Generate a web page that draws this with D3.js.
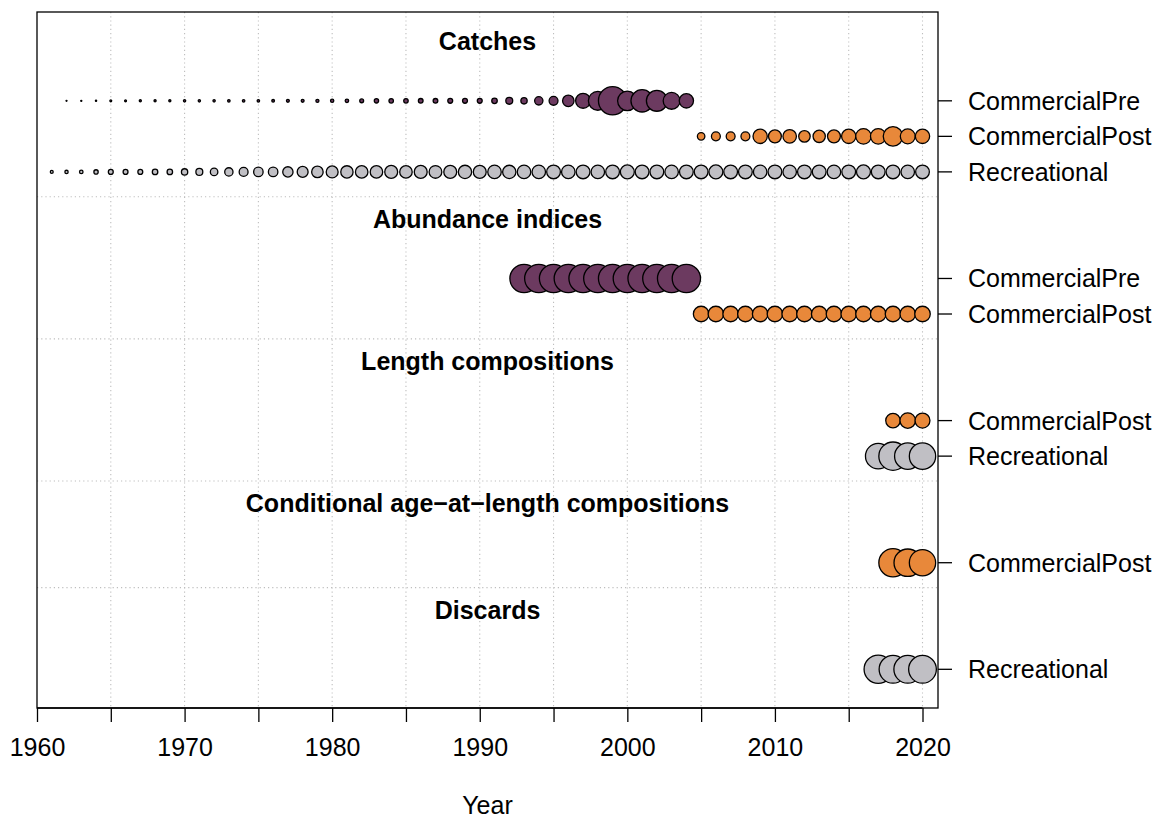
<!DOCTYPE html>
<html>
<head>
<meta charset="utf-8">
<script src="https://cdn.jsdelivr.net/npm/d3@7"></script>
<style>
  html, body { margin: 0; padding: 0; background: #ffffff; }
  svg { display: block; font-family: "Liberation Sans", Arial, sans-serif; }
</style>
</head>
<body>
<svg id="chart" width="1156" height="819"></svg>
<script>
// ---------------- DATA ----------------
const typeNames = ["Catches", "Abundance indices", "Length compositions",
                   "Conditional age\u2212at\u2212length compositions", "Discards"];
const fleetNames = ["CommercialPre", "CommercialPost", "Recreational"];
const fleetColors = ["#6C3A60", "#E8883A", "#C0BFC4"];

// Catches (relative amounts)
const catchPreYears = d3.range(1962, 2005);
const catchPre = [10, 12, 14, 22, 22, 26, 26, 26, 29, 29,
                  29, 32, 32, 32, 36, 40, 40, 44, 48, 53,
                  62, 73, 78, 78, 84, 84, 90, 90, 90, 109,
                  160, 137, 221, 250, 397, 640, 1000, 2161, 1061, 1369,
                  1210, 810, 593];
const catchPostYears = d3.range(2005, 2021);
const catchPost = [185, 250, 250, 250, 593, 490, 533, 397, 449, 490,
                   593, 689, 689, 1061, 640, 593];
const catchRecYears = d3.range(1961, 2021);
const catchRec = [40, 48, 53, 73, 90, 90, 90, 109, 109, 137,
                  160, 185, 221, 250, 281, 281, 325, 360, 397, 423,
                  449, 462, 462, 490, 462, 490, 476, 490, 518, 490,
                  533, 518, 533, 533, 548, 533, 548, 533, 548, 563,
                  548, 548, 533, 548, 548, 563, 548, 548, 533, 548,
                  533, 548, 548, 533, 548, 563, 548, 548, 533, 548];

// Abundance indices (relative precision)
const abundPreYears = d3.range(1993, 2005);
const abundPre = [1, 1, 1, 1, 1, 1, 1, 1, 1, 1, 1, 1];
const abundPostYears = d3.range(2005, 2021);
const abundPost = [0.32, 0.32, 0.32, 0.32, 0.32, 0.32, 0.32, 0.32,
                   0.32, 0.32, 0.32, 0.32, 0.32, 0.32, 0.32, 0.32];

// Length compositions (sample sizes)
const lenPostYears = [2018, 2019, 2020];
const lenPost = [61, 69, 64];
const lenRecYears = [2017, 2018, 2019, 2020];
const lenRec = [177, 216, 188, 188];

// Conditional age-at-length compositions
const caalPostYears = [2018, 2019, 2020];
const caalPost = [216, 204, 188];

// Discards
const discRecYears = [2017, 2018, 2019, 2020];
const discRec = [234, 225, 225, 225];

const xTickValues = [1960, 1965, 1970, 1975, 1980, 1985, 1990, 1995, 2000, 2005, 2010, 2015, 2020];
const xLabelValues = [1960, 1970, 1980, 1990, 2000, 2010, 2020];

// series table built from the arrays above
const series = [
  { type: 0, fleet: 0, years: catchPreYears, values: catchPre },
  { type: 0, fleet: 1, years: catchPostYears, values: catchPost },
  { type: 0, fleet: 2, years: catchRecYears, values: catchRec },
  { type: 1, fleet: 0, years: abundPreYears, values: abundPre },
  { type: 1, fleet: 1, years: abundPostYears, values: abundPost },
  { type: 2, fleet: 1, years: lenPostYears, values: lenPost },
  { type: 2, fleet: 2, years: lenRecYears, values: lenRec },
  { type: 3, fleet: 1, years: caalPostYears, values: caalPost },
  { type: 4, fleet: 2, years: discRecYears, values: discRec }
];

// ---------------- LAYOUT ----------------
const W = 1156, H = 819;
const plot = { left: 37, right: 938, top: 12, bottom: 708 };
const fontSize = 25;
const maxR = 14.7;

// vertical layout in "row units"
let pos = 0.2;
const groupInfo = [];
const rowInfo = [];
typeNames.forEach((name, t) => {
  const rows = series.filter(s => s.type === t);
  const titleY = pos + 0.62;
  const start = pos + 2.3;
  rows.forEach((s, i) => { s.row = start + i; rowInfo.push(s); });
  const last = start + rows.length - 1;
  groupInfo.push({ name, titleY, sep: last + 0.7, last: t === typeNames.length - 1 });
  pos = last + 0.7;
});
const unitPx = 35.53;
const yMax = (plot.bottom - plot.top) / unitPx;

const x = d3.scaleLinear().domain([1960, 2021.05]).range([plot.left, plot.right]);
const y = d3.scaleLinear().domain([0, yMax]).range([plot.top, plot.bottom]);

const svg = d3.select("#chart");
svg.append("rect").attr("width", W).attr("height", H).attr("fill", "#fff");

// grid lines
const grid = svg.append("g");
grid.selectAll("line.v").data(xTickValues.filter(v => v > 1960)).join("line")
  .attr("x1", d => x(d)).attr("x2", d => x(d))
  .attr("y1", plot.top).attr("y2", plot.bottom)
  .attr("stroke", "#BEBEBE").attr("stroke-width", 1.1).attr("stroke-dasharray", "1.2,3");
grid.selectAll("line.h").data(groupInfo.filter(g => !g.last)).join("line")
  .attr("x1", plot.left).attr("x2", plot.right)
  .attr("y1", d => y(d.sep)).attr("y2", d => y(d.sep))
  .attr("stroke", "#BEBEBE").attr("stroke-width", 1.1).attr("stroke-dasharray", "1.2,3");

// titles
svg.append("g").selectAll("text").data(groupInfo).join("text")
  .attr("x", (plot.left + plot.right) / 2)
  .attr("y", d => y(d.titleY))
  .attr("dy", "0.36em")
  .attr("text-anchor", "middle")
  .attr("font-size", fontSize).attr("font-weight", "bold")
  .text(d => d.name);

// circles
const typeMax = typeNames.map((_, t) =>
  d3.max(series.filter(s => s.type === t), s => d3.max(s.values)));
const pts = [];
series.forEach(s => {
  const r = d3.scaleSqrt().domain([0, typeMax[s.type]]).range([0, maxR]);
  s.years.forEach((yr, i) => pts.push({
    cx: x(yr), cy: y(s.row), r: Math.max(r(s.values[i]) - 0.55, 0.5), fill: fleetColors[s.fleet]
  }));
});
svg.append("g").selectAll("circle").data(pts).join("circle")
  .attr("cx", d => d.cx).attr("cy", d => d.cy).attr("r", d => d.r)
  .attr("fill", d => d.fill).attr("stroke", "#000").attr("stroke-width", 1.3);

// box
svg.append("rect")
  .attr("x", plot.left).attr("y", plot.top)
  .attr("width", plot.right - plot.left).attr("height", plot.bottom - plot.top)
  .attr("fill", "none").attr("stroke", "#000").attr("stroke-width", 1.3);

// bottom axis
const xAxis = d3.axisBottom(x).tickValues(xTickValues).tickSize(14).tickSizeOuter(0)
  .tickPadding(16)
  .tickFormat(d => xLabelValues.includes(d) ? String(d) : "");
const gx = svg.append("g").attr("transform", `translate(0,${plot.bottom})`).call(xAxis);
gx.select(".domain").attr("d", `M${x(1960)},0H${x(2020)}`).attr("stroke-width", 1.3);
gx.selectAll(".tick line").attr("stroke-width", 1.3);
gx.selectAll("text").attr("font-size", fontSize).attr("fill", "#000")
  .attr("font-family", "Liberation Sans, Arial, sans-serif");

// right axis with fleet labels
const gr = svg.append("g");
gr.selectAll("line").data(rowInfo).join("line")
  .attr("x1", plot.right).attr("x2", plot.right + 14)
  .attr("y1", d => y(d.row)).attr("y2", d => y(d.row))
  .attr("stroke", "#000").attr("stroke-width", 1.3);
gr.selectAll("text").data(rowInfo).join("text")
  .attr("x", plot.right + 30).attr("y", d => y(d.row)).attr("dy", "0.36em")
  .attr("font-size", fontSize)
  .text(d => fleetNames[d.fleet]);

// x-axis title
svg.append("text")
  .attr("x", (plot.left + plot.right) / 2).attr("y", 805).attr("dy", "0.36em")
  .attr("text-anchor", "middle").attr("font-size", fontSize)
  .text("Year");
</script>
</body>
</html>
